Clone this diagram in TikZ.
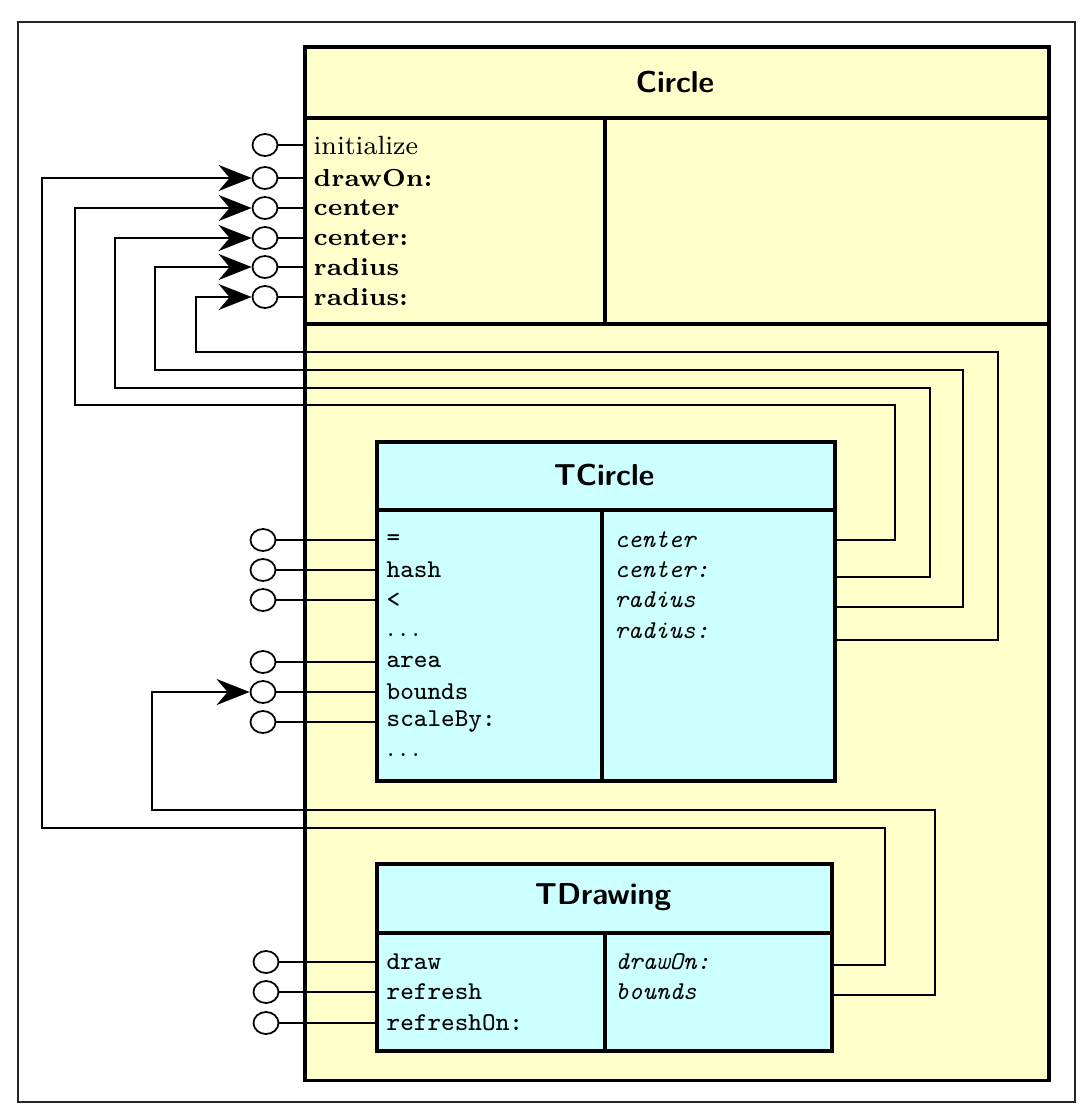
\documentclass[tikz,border=0pt]{standalone}
\usetikzlibrary{arrows.meta,shapes.geometric,positioning}
\definecolor{cyellow}{RGB}{255,255,204}
\definecolor{ccyan}{RGB}{204,255,255}
\tikzset{
  frame/.style={draw=black!85,line width=0.5pt},
  classbox/.style={draw,line width=1pt,anchor=north west,inner sep=0pt},
  rule/.style={line width=1pt},
  port/.style={draw,ellipse,minimum width=0.25cm,minimum height=0.22cm,inner sep=0pt,line width=0.5pt,fill=white},
  stub/.style={line width=0.55pt},
  feed/.style={line width=0.55pt,-{Stealth[length=3.3mm,width=2.6mm,inset=1.1mm]}},
  title/.style={font=\sffamily\bfseries\fontsize{8.6}{10}\selectfont},
  pub/.style={anchor=west,inner sep=0pt,font=\fontsize{7.5}{9}\selectfont},
  pubb/.style={anchor=west,inner sep=0pt,font=\bfseries\fontsize{7}{9}\selectfont},
  code/.style={anchor=west,inner sep=0pt,font=\ttfamily\fontsize{7.3}{9}\selectfont},
  impl/.style={anchor=west,inner sep=0pt,font=\ttfamily\itshape\fontsize{7.3}{9}\selectfont},
}
\newcommand{\moredots}{\rmfamily.\kern1.2pt.\kern1.2pt.}
\begin{document}
\begin{tikzpicture}[x=0.01cm,y=-0.01cm]
\useasboundingbox (0,0) rectangle (1092,1118);
\draw[frame] (18,22) rectangle (1075,1102);

% Circle
\node[classbox,fill=cyellow,minimum width=7.44cm,minimum height=10.33cm] (circ) at (303,45) {};
\draw[rule] (303,118) -- (1047,118);
\draw[rule] (303,324) -- (1047,324);
\draw[rule] (605,118) -- (605,324);
\node[title] (t-circ) at (675,82) {Circle};
\node[pub] (m-init) at (313,145) {initialize};
\foreach \nm/\txt/\yy in {drawon/drawOn:/178,center/center/208,setcenter/center:/238,radius/radius/267,setradius/radius:/297}
  \node[pubb] (m-\nm) at (313,\yy) {\txt};
\foreach \nm/\yy in {init/145,drawon/178,center/208,setcenter/238,radius/267,setradius/297} {
  \node[port] (p-\nm) at (265,\yy) {};
  \draw[stub] (p-\nm) -- (p-\nm -| circ.west);
}

% TCircle
\node[classbox,fill=ccyan,minimum width=4.58cm,minimum height=3.39cm] (tc) at (375,440) {};
\draw[rule] (375,510) -- (833,510);
\draw[rule] (602,510) -- (602,779);
\node[title] (t-tc) at (604,475) {TCircle};
\foreach \nm/\txt/\yy in {eq/=/540,hash/hash/570,less/\textless/600,more/\moredots/635,area/area/662,bounds/bounds/692,scale/scaleBy:/722,rest/\moredots/755}
  \node[code] (m-\nm) at (386,\yy) {\txt};
\foreach \nm/\yy in {eq/540,hash/570,less/600,area/662,bounds/692,scale/722} {
  \node[port] (p-\nm) at (263,\yy) {};
  \draw[stub] (p-\nm) -- (p-\nm -| tc.west);
}
\foreach \nm/\txt/\yy in {center/center/540,setcenter/center:/570,radius/radius/600,setradius/radius:/631}
  \node[impl] (i-\nm) at (614,\yy) {\txt};
\coordinate (q-center) at (833,540);
\coordinate (q-setcenter) at (833,577);
\coordinate (q-radius) at (833,607);
\coordinate (q-setradius) at (833,640);

% TDrawing
\node[classbox,fill=ccyan,minimum width=4.55cm,minimum height=1.87cm] (td) at (375,862) {};
\draw[rule] (375,933) -- (830,933);
\draw[rule] (605,933) -- (605,1049);
\node[title] (t-td) at (603,897) {TDrawing};
\foreach \nm/\txt/\yy in {draw/draw/962,refresh/refresh/992,refreshon/refreshOn:/1023} {
  \node[code] (m-\nm) at (386,\yy) {\txt};
  \node[port] (p-\nm) at (266,\yy) {};
  \draw[stub] (p-\nm) -- (p-\nm -| td.west);
}
\node[impl] (i-drawon) at (615,962) {drawOn:};
\node[impl] (i-bounds) at (615,992) {bounds};
\coordinate (q-drawon) at (830,965);
\coordinate (q-bounds) at (830,995);

% wiring back to the ports
\draw[feed] (q-center) -| (895,405) -- (75,405) |- (p-center);
\draw[feed] (q-setcenter) -| (930,388) -- (115,388) |- (p-setcenter);
\draw[feed] (q-radius) -| (963,370) -- (155,370) |- (p-radius);
\draw[feed] (q-setradius) -| (998,352) -- (196,352) |- (p-setradius);
\draw[feed] (q-drawon) -| (885,828) -- (42,828) |- (p-drawon);
\draw[feed] (q-bounds) -| (935,810) -- (152,810) |- (p-bounds);
\end{tikzpicture}
\end{document}
